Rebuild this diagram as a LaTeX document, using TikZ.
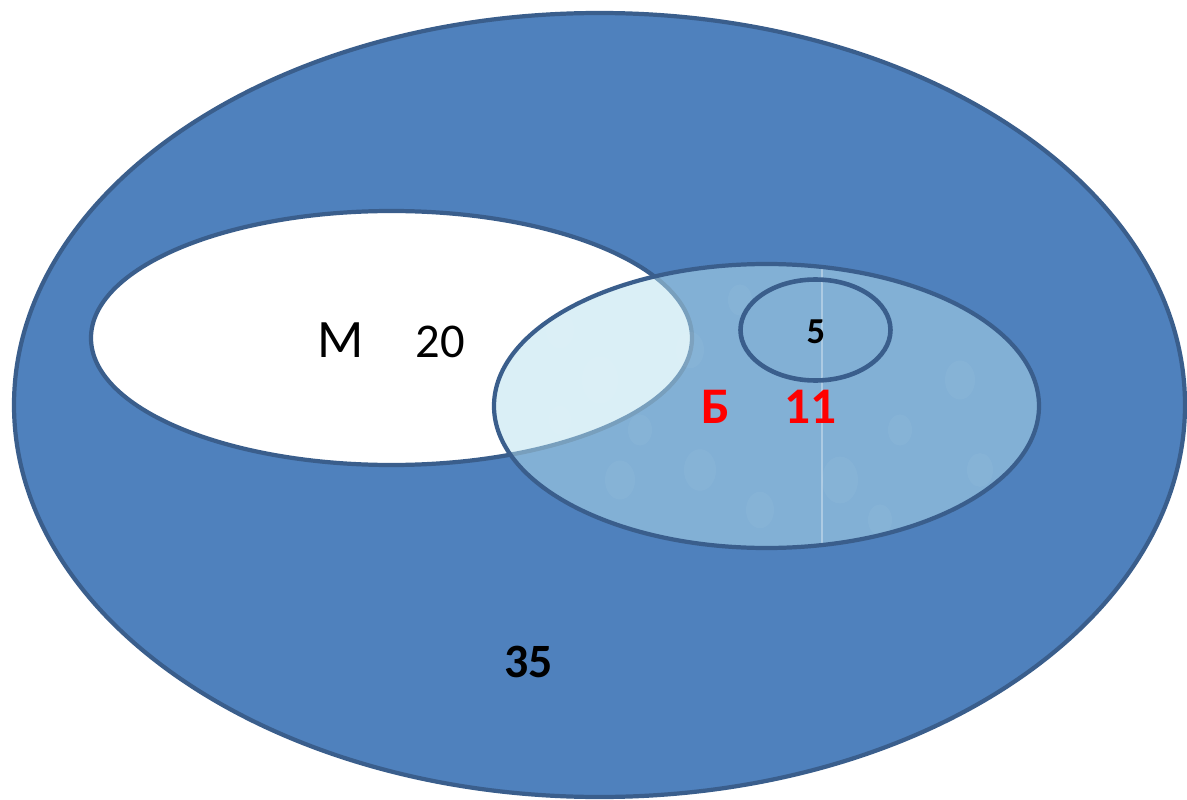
\documentclass[tikz,border=0pt]{standalone}
\usepackage{fontspec}
\setmainfont{Carlito}
\definecolor{outerblue}{RGB}{79,129,189}
\definecolor{edgeblue}{RGB}{58,94,140}
\definecolor{waterblue}{RGB}{182,224,238}
\definecolor{setred}{RGB}{255,0,0}
\tikzset{
  setedge/.style={draw=edgeblue, line width=1.2pt},
  lbl/.style={anchor=base, inner sep=0pt, text=black},
}
\begin{document}
\begin{tikzpicture}[x=0.01cm,y=-0.01cm]
\useasboundingbox (0,0) rectangle (1187,800);
\fill[white] (0,0) rectangle (1187,800);
% universe
\draw[setedge, fill=outerblue] (599.5,405) ellipse [x radius=585.5, y radius=392];
% set M
\draw[setedge, fill=white] (391.5,338) ellipse [x radius=300.5, y radius=127];
% set B (semi-transparent water texture)
\fill[waterblue, fill opacity=0.5] (766.5,406) ellipse [x radius=272.5, y radius=142];
\begin{scope}
  \clip (766.5,406) ellipse [x radius=271, y radius=140.5];
  \draw[white, opacity=0.35, line width=0.4pt] (822,250) -- (822,560);
  \foreach \cx/\cy/\r in {560/330/14, 600/380/18, 640/430/12, 700/470/16, 760/510/14, 840/480/18, 900/430/12, 960/380/15, 980/470/13, 880/520/12, 620/480/15, 740/300/12, 690/350/14, 560/420/11}
    \fill[white, opacity=0.04] (\cx,\cy) ellipse [x radius=\r, y radius=1.3*\r];
\end{scope}
\draw[setedge] (766.5,406) ellipse [x radius=272.5, y radius=142];
% subset 5
\draw[setedge, line width=1.3pt] (815.5,330) ellipse [x radius=75, y radius=50.5];
% labels
\node[lbl, font=\fontsize{15.4}{18}\selectfont] (lblM) at (341,357) {M};
\node[lbl, font=\fontsize{13.8}{16}\selectfont] (lbl20) at (440,357) {20};
\node[lbl, text=setred, font=\fontsize{14.6}{17}\selectfont\bfseries] (lblB) at (715.5,423) {Б};
\node[lbl, text=setred, font=\fontsize{14.6}{17}\selectfont\bfseries] (lbl11) at (810.5,423) {11};
\node[lbl, font=\fontsize{10.4}{12}\selectfont\bfseries] (lbl5) at (816,343) {\textbf{5}};
\node[lbl, font=\bfseries\fontsize{13.6}{16}\selectfont] (lbl35) at (528.5,677) {35};
\end{tikzpicture}
\end{document}
